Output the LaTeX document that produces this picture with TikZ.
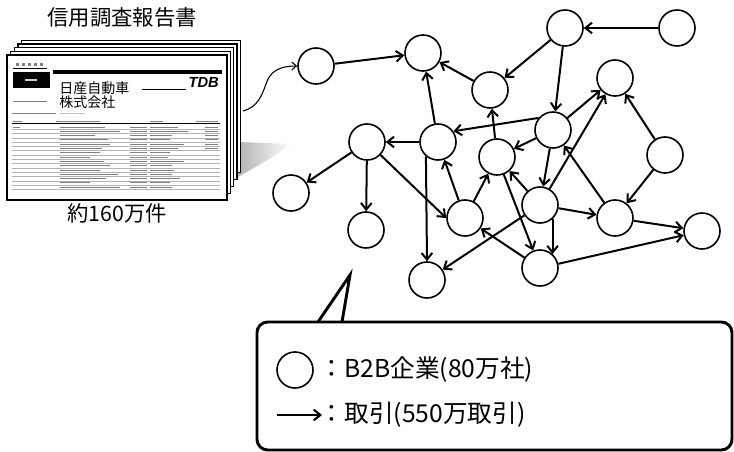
\documentclass[tikz,border=0pt]{standalone}
\usepackage{fontspec}
\setmainfont{Noto Sans CJK JP}
\newfontfamily\tdbfont{Liberation Sans}
\usetikzlibrary{arrows.meta}
\tikzset{>={Straight Barb[length=5pt,width=8pt]},every node/.style={font=\fontsize{16}{19}\selectfont},firm/.style={draw,circle,line width=1.2pt,minimum size=27pt,inner sep=0pt},deal/.style={line width=1.5pt,->},sheet/.style={draw,fill=white,line width=1pt},bar/.style={gray,line width=.7pt},keytext/.style={anchor=west,font=\fontsize{18.5}{21}\selectfont}}

\begin{document}
\begin{tikzpicture}[x=.75pt,y=-.75pt]
\useasboundingbox (0,0) rectangle (734,452);
% stack of credit reports
\shade[left color=gray!60,right color=white] (238,142)--(292,144)--(266,161)--(238,177)--cycle;
\foreach \k in {4,3,2,1} \draw[sheet] ({7+3.7*\k},{55-3.7*\k}) rectangle ({227+3.3*\k},{200-6.8*\k});
\draw[sheet,line width=1.2pt] (7,55) rectangle (227,200);
\node at (122,17){信用調査報告書};\node at (117,213){約160万件};
\draw[line width=.4pt] (13,68)--(47,68);\foreach \x in {16,22,28,34,40} \fill[gray] (\x,63.5) rectangle ++(3,2.5);
\fill (13,72) rectangle (50,88);\fill[gray!40] (25,79) rectangle (37,81);\fill (53,70) rectangle (222,74);
\node[anchor=west,inner sep=0,font=\fontsize{10.5}{12}\selectfont] at (59,88.5){日産自動車};
\node[anchor=west,inner sep=0,font=\fontsize{10.5}{12}\selectfont] at (59,102){株式会社};
\draw[line width=.6pt] (142,89)--(186,89);\node[anchor=east,inner sep=0,font=\tdbfont\fontsize{11}{12}\selectfont\bfseries\itshape] at (219,82){TDB};
\draw[bar] (13,101)--(47,101) (12,113)--(56,113);\draw[bar,gray!50] (60,113)--(85,113);
\draw[bar] (13,121)--(22,121) (56,121)--(100,121) (150,121)--(163,121) (196,121)--(218,121);\draw[line width=.4pt] (12,123.5)--(220,123.5);
\draw[bar] (13,127)--(20,127);
\foreach \r/\l/\m in {0/45/28,1/60/38,2/35/22,3/48/20,4/50/34,5/42/28,6/40/20,7/30/18,8/44/34,9/50/22,10/40/24,11/58/22,12/46/30,13/30/20,14/60/22}{
  \draw[bar] (60,{127+4.3*\r})--++(\l,0) (130,{127+4.3*\r})--++(17,0) (150,{127+4.3*\r})--++(\m,0);
  \draw[gray!60,line width=.3pt] (12,{129.2+4.3*\r})--(220,{129.2+4.3*\r});}
\foreach \r in {0,...,5} \draw[bar] (205,{127+4.3*\r})--(218,{127+4.3*\r});
% firms
\node[firm] (a) at (316,66){};\node[firm] (b) at (423,53){};\node[firm] (c) at (565,28){};\node[firm] (d) at (677,28){};
\node[firm] (e) at (490,90){};\node[firm] (f) at (615,78){};\node[firm] (g) at (553,130){};\node[firm] (h) at (438,142){};
\node[firm] (i) at (367,142){};\node[firm] (j) at (291,193){};\node[firm] (k) at (366,230){};\node[firm] (n) at (497,157){};
\node[firm] (p) at (540,205){};\node[firm] (q) at (465,218){};\node[firm] (r) at (427,280){};\node[firm] (s) at (540,268){};
\node[firm] (t) at (615,218){};\node[firm] (u) at (702,231){};\node[firm] (v) at (665,155){};
\coordinate (stack) at (243,111);
\draw[line width=.8pt,-{Straight Barb[length=3.5pt,width=6pt]}] (stack)..controls (258,107) and (262,95)..(266,84)..controls (270,71) and (280,66)..(a.west);
% transactions
\draw[deal] (a)--(b);\draw[deal] (e)--(b);\draw[deal] (h)--(b);\draw[deal] (d)--(c);\draw[deal] (c)--(e);\draw[deal] (c)--(g);
\draw[deal] (g)--(f);\draw[deal] (p)--(f);\draw[deal] (v)--(f);\draw[deal] (v)--(t);\draw[deal] (t)--(g);\draw[deal] (g.140)--(h.35);
\draw[deal] (g)--(n);\draw[deal] (g)--(p);\draw[deal] (n)--(e);\draw[deal] (h)--(i);\draw[deal] (i)--(j);\draw[deal] (i)--(k);
\draw[deal] (i)--(q.west);\draw[deal] (h.-130)--(r.north);\draw[deal] (q)--(h);\draw[deal] (q)--(n);\draw[deal] (p)--(n);\draw[deal] (n)--(s);
\draw[deal] (p.-48)--(s.48);\draw[deal] (p)--(t);\draw[deal] (p)--(r);\draw[deal] (s)--(q);\draw[deal] (t)--(u);\draw[deal] (s)--(u);
% legend callout
\draw[line width=2.2pt,rounded corners=8pt] (257,322) rectangle (732,450);
\coordinate (tip) at (350,275);\draw[line width=2.2pt] (318,322)--(tip)--(342,322);
\node[firm] (key) at (295,370){};\node[keytext] (firmkey) at (315,370){：B2B企業(80万社)};
\coordinate (keyl) at (277,415);\coordinate (keyr) at (322,415);\draw[deal] (keyl)--(keyr);
\node[keytext] (dealkey) at (315,415){：取引(550万取引)};
\end{tikzpicture}
\end{document}
